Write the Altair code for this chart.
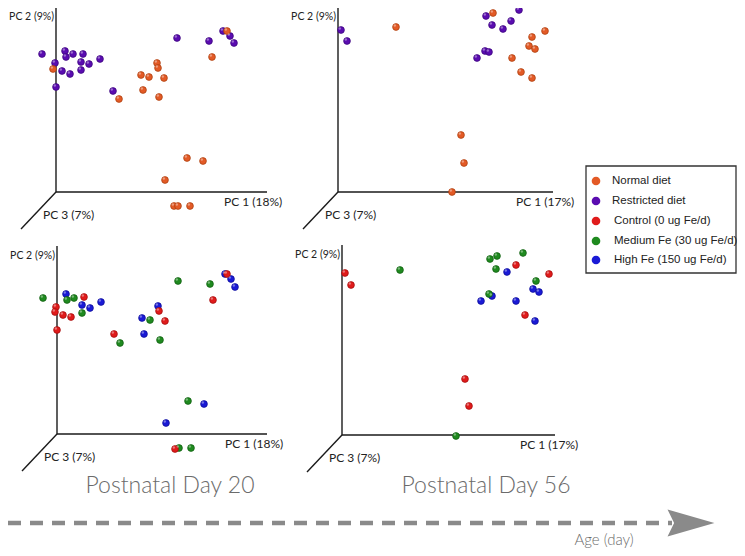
import altair as alt
import pandas as pd

# ---------------- data (PC1 / PC2 scores, in plot units) -------------
# Top-left: Postnatal day 20, diet
tl_normal = [(-3,123),(171,161),(156,135),(101,129),(102,124),(85,117),(93,115),(108,114),
             (87,102),(103,95),(63,93),(131,34),(147,31),(109,12),(118,-14),(122,-14),(134,-14)]
tl_restricted = [(-14,138),(9,141),(10,135),(17,138),(27,138),(-1,129),(25,130),(33,128),(44,133),
                 (6,121),(14,118),(25,122),(0,105),(57,101),(121,154),(153,151),(167,161),(174,156),(178,149)]
# Top-right: Postnatal day 56, diet
tr_normal = [(58,165),(155,179),(207,161),(194,155),(191,146),(197,143),(174,134),(183,120),
             (194,114),(123,57),(126,29),(114,0)]
tr_restricted = [(3,162),(9,151),(148,176),(154,167),(181,182),(173,171),(165,163),(147,141),(151,140),(139,134)]
# Bottom-left: Postnatal day 20, iron
bl_control = [(27,137),(-1,127),(-2,122),(6,119),(14,117),(0,104),(102,123),(108,113),(57,100),
              (156,134),(170,160),(118,-15)]
bl_medium = [(-14,136),(10,134),(17,136),(25,121),(121,153),(153,150),(93,114),(63,91),(103,94),
             (131,33),(122,-14),(134,-14)]
bl_high = [(9,140),(25,129),(33,126),(44,132),(101,128),(85,116),(87,100),(147,30),(109,11),
           (168,160),(174,155),(178,147)]
# Bottom-right: Postnatal day 56, iron
br_control = [(3,162),(9,150),(174,170),(207,161),(183,120),(123,56),(127,29)]
br_medium = [(58,165),(148,176),(155,179),(181,182),(154,166),(194,154),(147,141),(114,-1)]
br_high = [(165,163),(191,146),(197,143),(150,139),(139,134),(174,134),(193,114)]

groups = ["Normal diet", "Restricted diet", "Control (0 ug Fe/d)",
          "Medium Fe (30 ug Fe/d)", "High Fe (150 ug Fe/d)"]
point_colors = ["#e35a26", "#5a0cb0", "#e01b1b", "#1f8a1f", "#1a1ad6"]
point_edges = ["#a63c0c", "#3a0578", "#9e0c0c", "#0f5a0f", "#0c0c90"]
legend_colors = ["#f26b3a", "#8e44ad", "#b22222", "#109010", "#0000ff"]

pc1_titles = ["PC 1 (18%)", "PC 1 (17%)", "PC 1 (18%)", "PC 1 (17%)"]
pc2_title = "PC 2 (9%)"
pc3_title = "PC 3 (7%)"
day_titles = ["Postnatal Day 20", "Postnatal Day 56"]
age_title = "Age (day)"

# ---------------- layout (panel origins in page pixels) ----------------
origins = {"tl": (56, 192), "tr": (338, 192), "bl": (57, 434), "br": (342, 435)}
axis_top = {"tl": 0, "tr": 0, "bl": 246, "br": 245}
axis_right = {"tl": 267, "tr": 553, "bl": 267, "br": 555}

rows = []
def add(panel, pts, g):
    ox, oy = origins[panel]
    for a, b in pts:
        rows.append({"x": ox + a, "y": oy - b, "group": g})

add("tl", tl_restricted, groups[1]); add("tl", tl_normal, groups[0])
add("tr", tr_restricted, groups[1]); add("tr", tr_normal, groups[0])
add("bl", bl_high, groups[4]); add("bl", bl_medium, groups[3]); add("bl", bl_control, groups[2])
add("br", br_high, groups[4]); add("br", br_medium, groups[3]); add("br", br_control, groups[2])
pts = pd.DataFrame(rows)

axes_rows, lab_left, lab_right = [], [], []
for i, p in enumerate(["tl", "tr", "bl", "br"]):
    ox, oy = origins[p]
    axes_rows.append({"x": ox, "y": axis_top[p], "x2": ox, "y2": oy})
    axes_rows.append({"x": ox, "y": oy, "x2": axis_right[p], "y2": oy})
    axes_rows.append({"x": ox, "y": oy, "x2": ox - 35, "y2": oy + 37})
    lab_right.append({"x": ox - 2, "y": max(axis_top[p] + 10, 17), "t": pc2_title})
    lab_left.append({"x": ox + (168 if p in ("tl", "bl") else 178), "y": oy + 10, "t": pc1_titles[i]})
    lab_left.append({"x": ox - 13, "y": oy + 23, "t": pc3_title})
axes_df = pd.DataFrame(axes_rows)
lab_left_df = pd.DataFrame(lab_left)
lab_right_df = pd.DataFrame(lab_right)

W, H = 729, 540
xs = alt.Scale(domain=[8, 8 + W], nice=False, zero=False)
ys = alt.Scale(domain=[8, 8 + H], nice=False, zero=False, reverse=True)
X = lambda f="x": alt.X(f + ":Q", scale=xs, axis=None)
Y = lambda f="y": alt.Y(f + ":Q", scale=ys, axis=None)

axes_layer = alt.Chart(axes_df).mark_rule(color="#1a1a1a", strokeWidth=1.4).encode(
    x=X(), y=Y(), x2="x2:Q", y2="y2:Q")

pt_layer = alt.Chart(pts).mark_circle(size=46, opacity=1, strokeWidth=0.7).encode(
    x=X(), y=Y(),
    color=alt.Color("group:N", scale=alt.Scale(domain=groups, range=point_colors), legend=None),
    stroke=alt.Stroke("group:N", scale=alt.Scale(domain=groups, range=point_edges), legend=None))
hl_layer = alt.Chart(pts).mark_circle(size=6, color="white", opacity=0.4,
                                      xOffset=-1.2, yOffset=-1.5).encode(x=X(), y=Y())

lab_l = alt.Chart(lab_left_df).mark_text(align="left", baseline="middle", font="Lato",
                                         fontSize=12, color="#222222").encode(x=X(), y=Y(), text="t:N")
lab_r = alt.Chart(lab_right_df).mark_text(align="right", baseline="middle", font="Lato",
                                          fontSize=10.5, color="#222222").encode(x=X(), y=Y(), text="t:N")

# legend (drawn by hand)
leg_box = alt.Chart(pd.DataFrame([{"x": 586, "y": 166, "x2": 736, "y2": 273}])).mark_rect(
    fill="white", stroke="#333333", strokeWidth=1.3).encode(x=X(), y=Y(), x2="x2:Q", y2="y2:Q")
leg_df = pd.DataFrame({"group": groups, "y": [181, 201, 221, 241, 260],
                       "x": [596] * 5, "tx": [612, 612, 614, 614, 614]})
leg_dot = alt.Chart(leg_df).mark_circle(size=75, opacity=1).encode(
    x=X(), y=Y(),
    color=alt.Color("group:N", scale=alt.Scale(domain=groups, range=legend_colors), legend=None))
leg_txt = alt.Chart(leg_df).mark_text(align="left", baseline="middle", font="Liberation Sans",
                                      fontSize=11.5, color="#222222").encode(
    x=X("tx"), y=Y(), text="group:N")

# bottom time arrow
day_df = pd.DataFrame({"x": [170, 486], "y": [486, 486], "t": day_titles})
day_txt = alt.Chart(day_df).mark_text(align="center", baseline="middle", font="Lato",
                                      fontWeight=300, fontSize=23, color="#6b6b6b").encode(
    x=X(), y=Y(), text="t:N")
dash = alt.Chart(pd.DataFrame([{"x": 8, "x2": 672, "y": 523}])).mark_rule(
    color="#8a8a8a", strokeWidth=4.5, strokeDash=[13, 9]).encode(x=X(), x2="x2:Q", y=Y())
head = alt.Chart(pd.DataFrame([{"x": 691, "y": 523}])).mark_point(
    shape="M-1,-0.58L1,0L-1,0.58L-0.72,0Z", size=2200, filled=True, opacity=1,
    color="#8a8a8a").encode(x=X(), y=Y())
age_txt = alt.Chart(pd.DataFrame([{"x": 604, "y": 540, "t": age_title}])).mark_text(
    align="center", baseline="middle", font="Lato", fontWeight=300, fontSize=15,
    color="#6b6b6b").encode(x=X(), y=Y(), text="t:N")

chart = alt.layer(
    axes_layer, pt_layer, hl_layer, lab_l, lab_r,
    leg_box, leg_dot, leg_txt, day_txt, dash, head, age_txt
).properties(width=W, height=H, padding=0, autosize="none").configure_view(stroke=None)

chart.save("out.html", embed_options={"renderer": "svg", "actions": False})
